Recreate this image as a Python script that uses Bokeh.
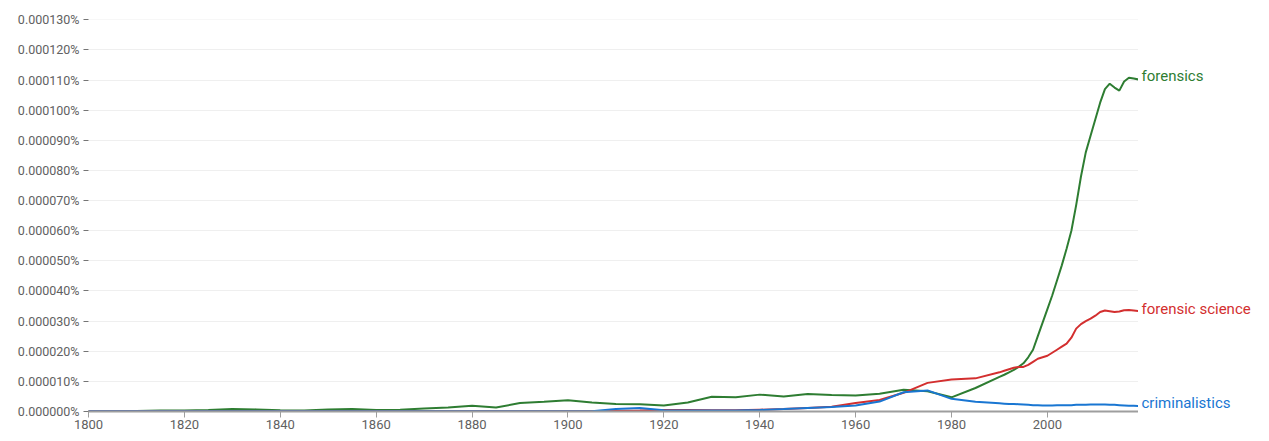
from bokeh.plotting import figure
from bokeh.layouts import row
from bokeh.models import ColumnDataSource, Range1d, FixedTicker, CustomJSTickFormatter
from bokeh.embed import file_html
from bokeh.resources import INLINE
import numpy as np

# years sampled (5-year steps, then yearly)
years = list(range(1800, 1991, 5)) + list(range(1991, 2020))

# values in units of 0.00001 %
forensics = [0.02, 0.02, 0.02, 0.03, 0.03, 0.05, 0.08, 0.07, 0.04, 0.03,
             0.07, 0.08, 0.05, 0.06, 0.10, 0.13, 0.19, 0.13, 0.28, 0.32,
             0.37, 0.30, 0.25, 0.24, 0.20, 0.30, 0.49, 0.47, 0.56, 0.50,
             0.58, 0.55, 0.53, 0.59, 0.72, 0.67, 0.47, 0.78, 1.15,
             1.22, 1.30, 1.38, 1.48, 1.60, 1.80, 2.05, 2.50, 2.95, 3.40,
             3.85, 4.35, 4.85, 5.40, 6.00, 6.85, 7.80, 8.60, 9.15, 9.70,
             10.25, 10.70, 10.88, 10.75, 10.65, 10.95, 11.08, 11.05, 11.02]
forensic_science = [0.02, 0.02, 0.02, 0.02, 0.02, 0.02, 0.02, 0.02, 0.02, 0.02,
                    0.02, 0.02, 0.02, 0.02, 0.02, 0.02, 0.02, 0.02, 0.02, 0.02,
                    0.02, 0.02, 0.02, 0.03, 0.05, 0.05, 0.04, 0.04, 0.06, 0.08,
                    0.12, 0.16, 0.28, 0.38, 0.62, 0.95, 1.06, 1.10, 1.30,
                    1.35, 1.40, 1.45, 1.48, 1.48, 1.55, 1.65, 1.75, 1.80, 1.85,
                    1.95, 2.05, 2.15, 2.25, 2.45, 2.75, 2.90, 3.00, 3.08, 3.18,
                    3.30, 3.35, 3.33, 3.30, 3.32, 3.36, 3.37, 3.35, 3.33]
criminalistics = [0.01, 0.01, 0.01, 0.01, 0.01, 0.01, 0.01, 0.01, 0.01, 0.01,
                  0.01, 0.01, 0.01, 0.01, 0.01, 0.01, 0.01, 0.01, 0.01, 0.01,
                  0.01, 0.01, 0.08, 0.12, 0.04, 0.03, 0.03, 0.03, 0.05, 0.08,
                  0.12, 0.15, 0.20, 0.33, 0.64, 0.70, 0.42, 0.32, 0.27,
                  0.26, 0.25, 0.25, 0.24, 0.23, 0.22, 0.21, 0.21, 0.20, 0.20,
                  0.20, 0.21, 0.21, 0.21, 0.21, 0.22, 0.22, 0.22, 0.23, 0.23,
                  0.23, 0.23, 0.22, 0.22, 0.21, 0.20, 0.19, 0.19, 0.18]

series_names = ["forensics", "forensic science", "criminalistics"]
series_values = [forensics, forensic_science, criminalistics]
series_colors = ["#2e7d32", "#d32f2f", "#1976d2"]
label_offsets = [-3, -2, -3]

x_ticks = list(range(1800, 2001, 20))
y_ticks = [round(i * 1e-5, 10) for i in range(0, 14)]

H = 440
TOP = 19
BOTTOM = 29
yr = Range1d(0, 0.0001301)

p = figure(width=1138, height=H, output_backend="svg", toolbar_location=None,
           x_range=Range1d(1800, 2019), y_range=yr,
           min_border_left=88, min_border_right=0, min_border_top=TOP,
           min_border_bottom=BOTTOM)
p.outline_line_color = None
p.background_fill_color = "white"
p.border_fill_color = "white"

for name, vals, col in zip(series_names, series_values, series_colors):
    src = ColumnDataSource(dict(x=years, y=np.array(vals) * 1e-5))
    p.line("x", "y", source=src, line_color=col, line_width=2)

p.xgrid.grid_line_color = None
p.ygrid.grid_line_color = "#efefef"
p.ygrid.grid_line_width = 1
p.ygrid.ticker = FixedTicker(ticks=y_ticks)

p.xaxis.ticker = FixedTicker(ticks=x_ticks)
p.xaxis.formatter = CustomJSTickFormatter(code="return tick.toFixed(0);")
p.xaxis.axis_line_color = "#9e9e9e"
p.xaxis.axis_line_width = 2
p.xaxis.major_tick_line_color = "#9e9e9e"
p.xaxis.major_tick_in = 0
p.xaxis.major_tick_out = 6
p.xaxis.minor_tick_line_color = None
p.xaxis.major_label_standoff = 2
p.xaxis.major_label_text_font = "Roboto"
p.xaxis.major_label_text_font_size = "13px"
p.xaxis.major_label_text_color = "#616161"

p.yaxis.ticker = FixedTicker(ticks=y_ticks)
p.yaxis.formatter = CustomJSTickFormatter(code="return (tick).toFixed(6) + '%';")
p.yaxis.axis_line_color = None
p.yaxis.major_tick_line_color = "#757575"
p.yaxis.major_tick_in = 0
p.yaxis.major_tick_out = 5
p.yaxis.minor_tick_line_color = None
p.yaxis.major_label_standoff = 4
p.yaxis.major_label_text_font = "Roboto"
p.yaxis.major_label_text_font_size = "12.5px"
p.yaxis.major_label_text_color = "#616161"

# series labels at the end of each line (separate panel sharing the y range)
q = figure(width=125, height=H, output_backend="svg", toolbar_location=None,
           x_range=Range1d(0, 1), y_range=yr,
           min_border_left=0, min_border_right=0, min_border_top=TOP,
           min_border_bottom=BOTTOM)
q.axis.visible = False
q.grid.grid_line_color = None
q.outline_line_color = None
q.background_fill_color = "white"
q.border_fill_color = "white"
for name, vals, col, off in zip(series_names, series_values, series_colors, label_offsets):
    q.text(x=[0], y=[vals[-1] * 1e-5], text=[name], x_offset=3, y_offset=off,
           text_color=col, text_font_size="15px", text_baseline="middle",
           text_align="left", text_font={"value": "Roboto"})

layout = row(p, q)
open("out.html", "w").write(file_html(layout, INLINE))
